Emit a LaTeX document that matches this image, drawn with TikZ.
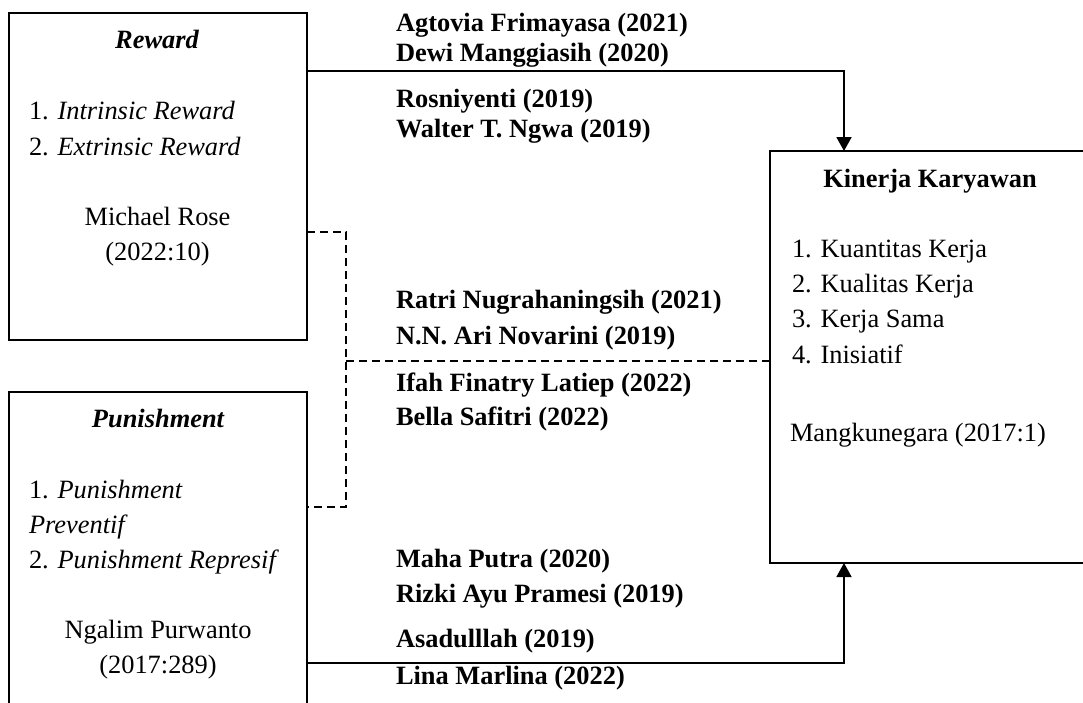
\documentclass[tikz,border=0pt]{standalone}
\usepackage{fontspec}
\setmainfont{Liberation Serif}
\usetikzlibrary{arrows.meta}
\begin{document}
\begin{tikzpicture}[x=1pt,y=-1pt,
  box/.style={draw,line width=1.8pt,inner sep=0pt,outer sep=0pt},
  txt/.style={inner sep=0pt,outer sep=0pt,font=\fontsize{26.4}{32}\selectfont},
  lbl/.style={txt,anchor=base west,font=\fontsize{26.4}{32}\selectfont\bfseries},
  conn/.style={line width=1.8pt,-{Triangle[length=14pt,width=15pt]}},
  dashline/.style={line width=1.4pt,dash pattern=on 8pt off 5pt}]
\useasboundingbox (0,0) rectangle (1083,702);
\clip (0,0) rectangle (1083,702);
% boxes
\node[box,minimum width=298pt,minimum height=327pt] (reward) at (158,176.5) {};
\node[box,minimum width=298pt,minimum height=340pt] (pun) at (158,562) {};
\node[box,minimum width=330pt,minimum height=412pt] (kin) at (935,357) {};
% reward texts
\node[txt,anchor=base,font=\fontsize{26.4}{32}\selectfont\bfseries\itshape] (rt) at (157,48) {Reward};
\node[txt,anchor=base west] (r1) at (29,119) {1. \textit{Intrinsic Reward}};
\node[txt,anchor=base west] (r2) at (29,155) {2. \textit{Extrinsic Reward}};
\node[txt,anchor=base] (r3) at (157.5,225) {Michael Rose};
\node[txt,anchor=base] (r4) at (157.5,260) {(2022:10)};
% punishment texts
\node[txt,anchor=base,font=\fontsize{26.4}{32}\selectfont\bfseries\itshape] (pt) at (158,427) {Punishment};
\node[txt,anchor=base west] (p1) at (29,498) {1. \textit{Punishment}};
\node[txt,anchor=base west] (p2) at (29,533) {\textit{Preventif}};
\node[txt,anchor=base west] (p3) at (29,568) {2. \textit{Punishment Represif}};
\node[txt,anchor=base] (p4) at (158,638) {Ngalim Purwanto};
\node[txt,anchor=base] (p5) at (158,673) {(2017:289)};
% kinerja texts
\node[txt,anchor=base,font=\fontsize{26.4}{32}\selectfont\bfseries] (kt) at (930,187) {Kinerja Karyawan};
\node[txt,anchor=base west] (k1) at (792,257) {1. Kuantitas Kerja};
\node[txt,anchor=base west] (k2) at (792,292) {2. Kualitas Kerja};
\node[txt,anchor=base west] (k3) at (792,327) {3. Kerja Sama};
\node[txt,anchor=base west] (k4) at (792,363) {4. Inisiatif};
\node[txt,anchor=base west] (k5) at (790,441) {Mangkunegara (2017:1)};
% labels
\node[lbl] (a1) at (396,31) {Agtovia Frimayasa (2021)};
\node[lbl] (a2) at (396,61) {Dewi Manggiasih (2020)};
\node[lbl] (a3) at (396,107) {Rosniyenti (2019)};
\node[lbl] (a4) at (396,137) {Walter T. Ngwa (2019)};
\node[lbl] (m1) at (396,308) {Ratri Nugrahaningsih (2021)};
\node[lbl] (m2) at (396,344) {N.N. Ari Novarini (2019)};
\node[lbl] (m3) at (396,391) {Ifah Finatry Latiep (2022)};
\node[lbl] (m4) at (396,425) {Bella Safitri (2022)};
\node[lbl] (b1) at (396,567) {Maha Putra (2020)};
\node[lbl] (b2) at (396,602) {Rizki Ayu Pramesi (2019)};
\node[lbl] (b3) at (396,647) {Asadulllah (2019)};
\node[lbl] (b4) at (396,684) {Lina Marlina (2022)};
% connectors
\coordinate (ta) at (844,71);
\coordinate (ba) at (844,663);
\draw[conn] (reward.east |- ta) -- (ta) -- (kin.north -| ta);
\draw[conn] (pun.east |- ba) -- (ba) -- (kin.south -| ba);
\coordinate (d1) at (346,232);
\coordinate (d2) at (346,507);
\coordinate (d3) at (346,361);
\draw[dashline] (reward.east |- d1) -- (d1) -- (d2) -- (pun.east |- d2);
\draw[dashline] (d3) -- (kin.west |- d3);
\end{tikzpicture}
\end{document}
